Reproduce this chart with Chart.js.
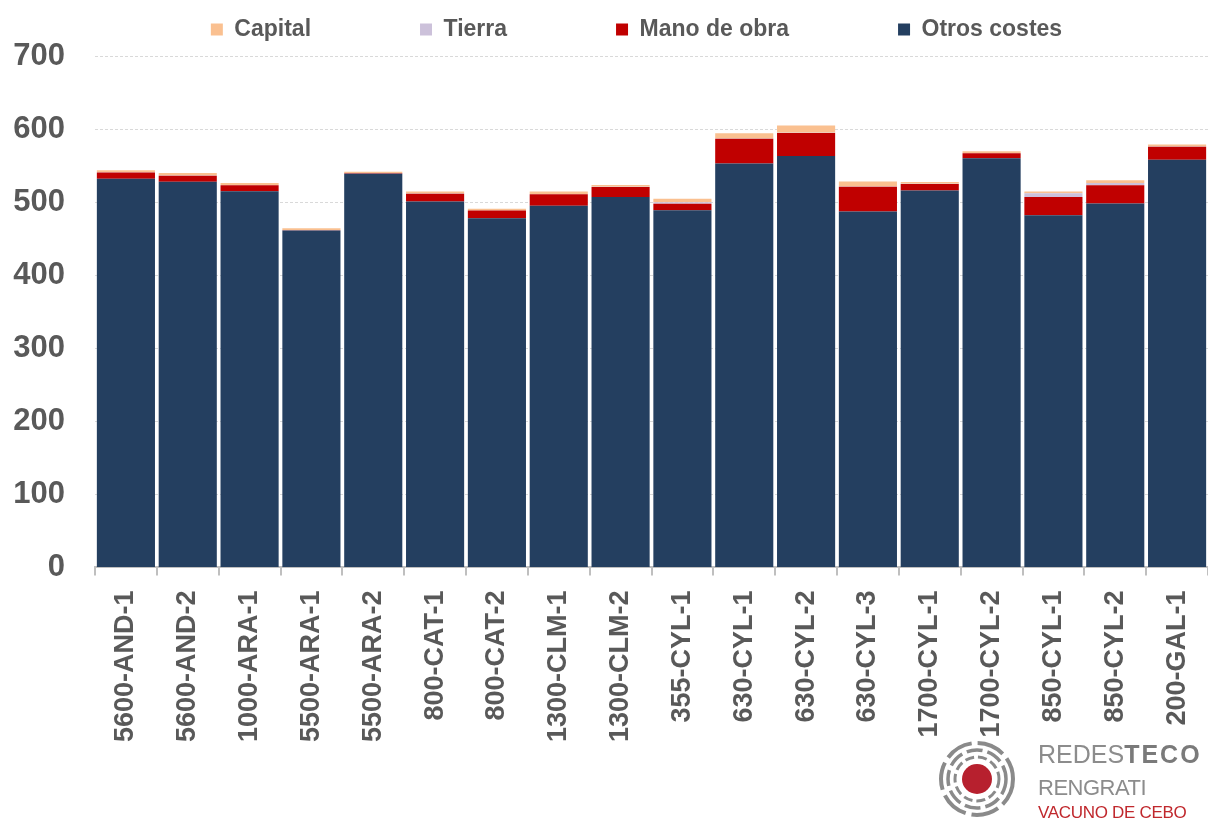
<!DOCTYPE html>
<html lang="es">
<head>
<meta charset="utf-8">
<title>Costes por explotación</title>
<script src="https://cdn.jsdelivr.net/npm/chart.js@4.4.1/dist/chart.umd.min.js"></script>
<style>
    html, body { margin: 0; padding: 0; background: #ffffff; overflow: hidden; }
    #wrap { position: relative; width: 1208px; height: 818px; overflow: hidden; }
    #chart-box { position: absolute; left: 0; top: 0; width: 1208px; height: 818px; }
    #logo-mark { position: absolute; left: 937px; top: 739px; }
    .logo-txt { position: absolute; left: 1038px; white-space: nowrap; line-height: 1; font-family: 'Liberation Sans', Arial, sans-serif; }
    #logo-1 { top: 742px; font-size: 25px; color: #8c8c8c; }
    #logo-1 b { color: #7a7a7a; letter-spacing: 2px; }
    #logo-2 { top: 777px; font-size: 22px; color: #8c8c8c; letter-spacing: -0.5px; }
    #logo-3 { top: 804px; font-size: 17px; color: #c0282d; letter-spacing: -0.3px; }
</style>
</head>
<body>
<div id="wrap">
    <div id="chart-box"><canvas id="costes-chart"></canvas></div>
    <svg id="logo-mark" width="80" height="80" viewBox="0 0 80 80">
        <circle cx="40" cy="40" r="15" fill="#b7202e"/>
        <circle cx="40" cy="40" r="22" fill="none" stroke="#8a8a8a" stroke-width="3" stroke-dasharray="9 4"/>
        <circle cx="40" cy="40" r="29" fill="none" stroke="#8a8a8a" stroke-width="3.5" stroke-dasharray="16 5"/>
        <circle cx="40" cy="40" r="36" fill="none" stroke="#8a8a8a" stroke-width="4" stroke-dasharray="28 6"/>
    </svg>
    <div class="logo-txt" id="logo-1">REDES<b>TECO</b></div>
    <div class="logo-txt" id="logo-2">RENGRATI</div>
    <div class="logo-txt" id="logo-3">VACUNO DE CEBO</div>
</div>

<script>
// Costes por explotación (stacked bars)

const explotaciones = [
    '5600-AND-1', '5600-AND-2', '1000-ARA-1', '5500-ARA-1', '5500-ARA-2',
    '800-CAT-1', '800-CAT-2', '1300-CLM-1', '1300-CLM-2', '355-CYL-1',
    '630-CYL-1', '630-CYL-2', '630-CYL-3', '1700-CYL-1', '1700-CYL-2',
    '850-CYL-1', '850-CYL-2', '200-GAL-1'
];

// values
const otrosCostes = [532, 528, 515, 461, 539, 501, 478, 495, 507, 489, 553, 563, 487, 516, 560, 482, 498, 558];
const manoDeObra  = [8.6, 8.2, 8.2, 0.4, 0.4, 10.4, 10.4, 15.9, 13.7, 8.7, 33.8, 31.5, 34.2, 8.7, 6.8, 25.1, 25.1, 17.8];
const tierra      = [0.3, 0.3, 0.3, 0.3, 0.3, 0.3, 0.3, 0.3, 0.3, 2.0, 0.3, 0.3, 0.3, 0.3, 0.3, 5.0, 3.2, 0.3];
const capital     = [2.7, 3.2, 2.7, 2.7, 2.0, 2.7, 2.3, 3.2, 2.3, 5.0, 7.3, 10.0, 6.8, 2.7, 2.7, 2.3, 3.7, 2.7];

const yTicks = { min: 0, max: 700, step: 100 };

const TEXT_GREY = '#595959';
Chart.defaults.font.family = "'Liberation Sans', Arial, sans-serif";

function serie(label, data, color) {
    return {
        label: label,
        data: data,
        backgroundColor: color,
        borderWidth: 0,
        barPercentage: 0.94,
        categoryPercentage: 1.0
    };
}

// a bit of room under the legend, and nudge the legend row to the right
const legendSpacing = {
    id: 'legendSpacing',
    beforeLayout(chart) {
        const lg = chart.legend;
        if (!lg || lg._spaced) return;
        const fit = lg.fit;
        lg.fit = function () {
            fit.call(this);
            this.height += 5;
            if (this.lineWidths && this.lineWidths.length) this.lineWidths[0] -= 52;
        };
        lg._spaced = true;
    }
};

const ctx = document.getElementById('costes-chart').getContext('2d');

new Chart(ctx, {
    type: 'bar',
    data: {
        labels: explotaciones,
        datasets: [
            serie('Otros costes', otrosCostes, '#243f60'),
            serie('Mano de obra', manoDeObra, '#c00000'),
            serie('Tierra', tierra, '#ccc1da'),
            serie('Capital', capital, '#fac090')
        ]
    },
    plugins: [legendSpacing],
    options: {
        responsive: true,
        maintainAspectRatio: false,
        animation: false,
        layout: {
            padding: { left: 13, right: 0, top: 1, bottom: 61 }
        },
        plugins: {
            legend: {
                position: 'top',
                reverse: true,
                labels: {
                    color: TEXT_GREY,
                    boxWidth: 12,
                    boxHeight: 12,
                    padding: 17,
                    font: { size: 23, weight: 'bold' },
                    // wide gaps between entries, like the original
                    generateLabels: (chart) => {
                        const items = Chart.defaults.plugins.legend.labels.generateLabels(chart);
                        return items.map(it => {
                            if (it.datasetIndex !== 0) it.text = it.text + '\u2003\u2003\u2003\u2003';
                            return it;
                        });
                    }
                }
            },
            tooltip: {
                callbacks: {
                    label: (c) => `${c.dataset.label}: ${c.raw}`
                }
            }
        },
        scales: {
            x: {
                stacked: true,
                grid: {
                    display: true,
                    drawOnChartArea: false,
                    drawTicks: true,
                    tickLength: 8,
                    color: '#bfbfbf',
                    lineWidth: 2
                },
                border: { display: true, color: '#bfbfbf', width: 2 },
                ticks: {
                    color: TEXT_GREY,
                    autoSkip: false,
                    minRotation: 90,
                    maxRotation: 90,
                    padding: 15,
                    font: { size: 27, weight: 'bold' }
                },
                afterFit: (axis) => {
                    axis.paddingLeft = 0;
                    axis.paddingRight = 0;
                }
            },
            y: {
                stacked: true,
                min: yTicks.min,
                max: yTicks.max,
                grid: {
                    color: '#d9d9d9',
                    lineWidth: 1,
                    drawTicks: false
                },
                border: { display: false, dash: [3, 2] },
                ticks: {
                    stepSize: yTicks.step,
                    color: TEXT_GREY,
                    padding: 30,
                    font: { size: 31, weight: 'bold' }
                },
                afterFit: (axis) => {
                    axis.width = 82;
                }
            }
        }
    }
});
</script>
</body>
</html>
